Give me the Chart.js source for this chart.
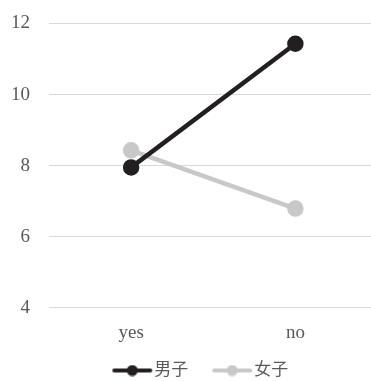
<!DOCTYPE html>
<html>
<head>
<meta charset="utf-8">
<script src="https://cdn.jsdelivr.net/npm/chart.js@4"></script>
<style>
  html, body { margin: 0; padding: 0; background: #fff; overflow: hidden; }
  canvas { display: block; }
</style>
</head>
<body>
<canvas id="lineChart" width="388" height="381"></canvas>
<script>
const categories = ['yes', 'no'];
const boys = [7.95, 11.43];
const girls = [8.43, 6.79];
const seriesNames = ['男子', '女子'];

const darkColor = '#231f20';
const lightColor = '#c8c8c8';
const textColor = '#595959';

// legend marker: short line with a dot, drawn toward the right of a wide image
function marker(color) {
  const c = document.createElement('canvas');
  c.width = 63; c.height = 12;
  const g = c.getContext('2d');
  g.strokeStyle = color;
  g.lineWidth = 4;
  g.lineCap = 'round';
  g.beginPath(); g.moveTo(23, 6); g.lineTo(59, 6); g.stroke();
  g.fillStyle = color;
  g.beginPath(); g.arc(41, 6, 5.5, 0, Math.PI * 2); g.fill();
  return c;
}

// pull the legend a bit closer to the bottom edge
const legendShift = {
  id: 'legendShift',
  beforeInit(chart) {
    const fit = chart.legend.fit;
    chart.legend.fit = function () {
      fit.call(this);
      this.height -= 8;
    };
  }
};

const serif = "'Liberation Serif', 'Times New Roman', 'Noto Sans CJK SC', serif";

new Chart(document.getElementById('lineChart').getContext('2d'), {
  type: 'line',
  data: {
    labels: categories,
    datasets: [{
      label: seriesNames[0],
      data: boys,
      borderColor: darkColor,
      backgroundColor: darkColor,
      borderWidth: 4.5,
      pointRadius: 6,
      pointHoverRadius: 6,
      legendMarker: marker(darkColor)
    }, {
      label: seriesNames[1],
      data: girls,
      borderColor: lightColor,
      backgroundColor: lightColor,
      borderWidth: 4.5,
      pointRadius: 6,
      pointHoverRadius: 6,
      legendMarker: marker(lightColor)
    }]
  },
  options: {
    responsive: false,
    animation: false,
    layout: { padding: { left: 0, top: 0, bottom: 0 } },
    plugins: {
      tooltip: { enabled: false },
      legend: {
        position: 'bottom',
        labels: {
          usePointStyle: true,
          pointStyleWidth: 46,
          color: textColor,
          font: { family: serif, size: 17 },
          padding: 11.5,
          generateLabels(chart) {
            return chart.data.datasets.map((ds, i) => ({
              text: ds.label,
              pointStyle: ds.legendMarker,
              fontColor: textColor,
              datasetIndex: i,
              hidden: false
            }));
          }
        }
      }
    },
    scales: {
      x: {
        offset: true,
        grid: { display: false },
        border: { display: false },
        ticks: { color: textColor, font: { family: serif, size: 19 }, padding: 6 }
      },
      y: {
        min: 4,
        max: 12,
        afterFit(scale) {
          scale.width = 49;
          scale.paddingTop = 23.5;
          scale.paddingBottom = 0;
        },
        ticks: { stepSize: 2, color: textColor, font: { family: serif, size: 19 }, padding: 19 },
        grid: { color: '#d9d9d9', lineWidth: 1, drawTicks: false },
        border: { display: false }
      }
    }
  },
  plugins: [legendShift]
});
</script>
</body>
</html>
